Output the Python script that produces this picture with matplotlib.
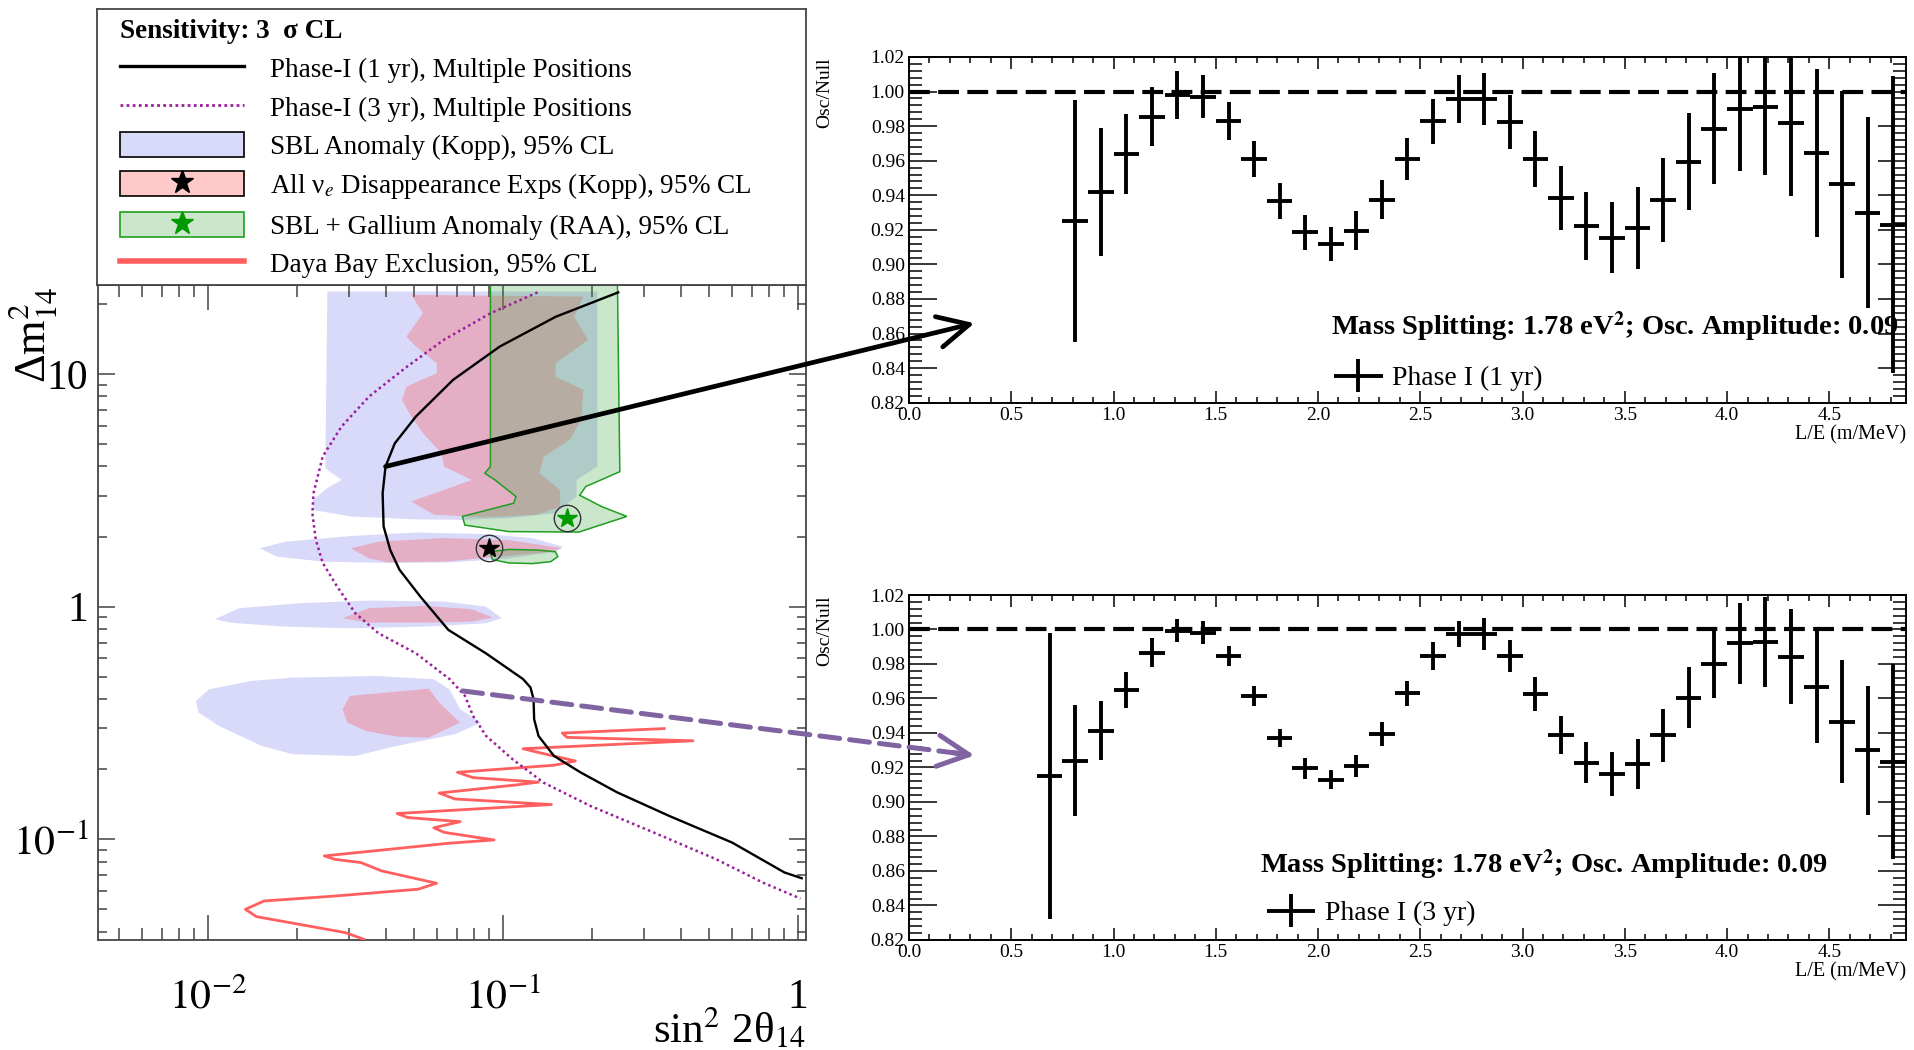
import matplotlib
matplotlib.use("Agg")
import matplotlib.pyplot as plt
from matplotlib.patches import Polygon, Patch, ConnectionPatch
from matplotlib.lines import Line2D
from matplotlib.container import ErrorbarContainer
from matplotlib.legend_handler import HandlerErrorbar, HandlerTuple
from matplotlib.ticker import (FixedLocator, FixedFormatter, LogLocator,
                               MultipleLocator, NullFormatter, FormatStrFormatter)

plt.rcParams['font.family'] = ['Liberation Serif', 'DejaVu Serif']
plt.rcParams['mathtext.fontset'] = 'stix'

# ---------------- sensitivity contours (sin^2 2theta14 , dm^2_14) ----------------
phase1_1yr_x = [0.246, 0.151, 0.0975, 0.0678, 0.0507, 0.043, 0.040, 0.0391, 0.0394, 0.0415,
                0.0446, 0.0526, 0.0653, 0.0875, 0.117, 0.124, 0.127, 0.1276, 0.132, 0.149,
                0.183, 0.244, 0.366, 0.598, 0.90, 1.03]
phase1_1yr_y = [22.4, 17.6, 13.1, 9.43, 6.56, 5.03, 4.0, 3.07, 2.21, 1.75,
                1.44, 1.10, 0.794, 0.63, 0.488, 0.449, 0.40, 0.328, 0.278, 0.228,
                0.194, 0.159, 0.126, 0.0968, 0.072, 0.068]

phase1_3yr_x = [0.131, 0.0906, 0.063, 0.0471, 0.0352, 0.0284, 0.0245, 0.0228, 0.0226, 0.0232,
                0.0245, 0.0274, 0.0316, 0.0379, 0.0507, 0.0659, 0.0744, 0.0792, 0.0877, 0.1077,
                0.1374, 0.198, 0.324, 0.529, 0.763, 1.02]
phase1_3yr_y = [22.4, 18.2, 14.0, 10.7, 8.0, 5.95, 4.42, 3.07, 2.52, 1.94,
                1.54, 1.22, 0.936, 0.767, 0.63, 0.488, 0.413, 0.339, 0.278, 0.221,
                0.175, 0.139, 0.107, 0.082, 0.065, 0.0556]

dayabay_x = [0.352, 0.159, 0.165, 0.441, 0.117, 0.132, 0.176, 0.149, 0.0701, 0.0792,
             0.132, 0.110, 0.0608, 0.0687, 0.146, 0.0438, 0.0475, 0.0716, 0.0583, 0.0633,
             0.0933, 0.0659, 0.0248, 0.0269, 0.033, 0.0388, 0.0596, 0.0516, 0.0269, 0.0155,
             0.0134, 0.0146, 0.0219, 0.0292, 0.0337]
dayabay_y = [0.299, 0.286, 0.274, 0.265, 0.245, 0.236, 0.217, 0.208, 0.194, 0.184,
             0.176, 0.171, 0.158, 0.149, 0.141, 0.129, 0.124, 0.119, 0.112, 0.107,
             0.0993, 0.0962, 0.0848, 0.082, 0.0794, 0.0731, 0.0647, 0.061, 0.057, 0.0543,
             0.050, 0.0465, 0.0424, 0.0397, 0.0372]

# SBL anomaly (Kopp) 95% CL islands
sbl_1_x = [0.0254, 0.209, 0.209, 0.1777, 0.1777, 0.1507, 0.1048, 0.0729, 0.0507, 0.0305,
           0.0228, 0.0227, 0.0254, 0.0284, 0.0250]
sbl_1_y = [22.6, 22.6, 4.0, 3.50, 2.97, 2.52, 2.40, 2.36, 2.37, 2.44,
           2.60, 2.87, 3.23, 3.50, 3.93]
sbl_2_x = [0.0150, 0.0183, 0.0305, 0.0507, 0.0875, 0.1257, 0.1592, 0.1507, 0.1048, 0.0678,
           0.0408, 0.0246, 0.0171]
sbl_2_y = [1.78, 1.90, 2.01, 2.08, 2.05, 1.97, 1.81, 1.72, 1.61, 1.55, 1.54, 1.56, 1.64]
sbl_3_x = [0.01056, 0.01276, 0.0205, 0.0352, 0.0631, 0.0875, 0.0993, 0.0875, 0.0545, 0.0305,
           0.0183, 0.01186]
sbl_3_y = [0.882, 0.984, 1.034, 1.061, 1.051, 1.0, 0.891, 0.848, 0.820, 0.807, 0.820, 0.853]
sbl_4_x = [0.0091, 0.0101, 0.0140, 0.0194, 0.0372, 0.0583, 0.0659, 0.0716, 0.0843, 0.0687,
           0.0438, 0.0316, 0.0194, 0.0152, 0.0109, 0.0093]
sbl_4_y = [0.393, 0.441, 0.479, 0.495, 0.503, 0.487, 0.441, 0.362, 0.317, 0.283,
           0.252, 0.228, 0.232, 0.252, 0.307, 0.350]

# All nu_e disappearance (Kopp) 95% CL islands
dis_1_x = [0.0489, 0.1875, 0.1743, 0.1944, 0.1507, 0.1507, 0.1875, 0.1841, 0.1681, 0.1377,
           0.1327, 0.1563, 0.1563, 0.1303, 0.0875, 0.0586, 0.0489, 0.0631, 0.0784, 0.0631,
           0.0619, 0.0536, 0.0489, 0.0455, 0.0471, 0.0597, 0.0597, 0.0507, 0.0471, 0.0536]
dis_1_y = [21.85, 21.5, 17.64, 14.0, 11.11, 9.74, 8.54, 6.34, 5.20, 4.41,
           3.74, 3.17, 2.69, 2.48, 2.42, 2.48, 2.83, 3.17, 3.50, 4.0,
           4.56, 5.56, 6.56, 7.73, 8.82, 10.07, 11.11, 13.11, 14.47, 18.23]
dis_2_x = [0.0305, 0.0379, 0.0631, 0.1048, 0.1592, 0.1453, 0.0975, 0.0631, 0.0408, 0.0352]
dis_2_y = [1.78, 1.90, 1.97, 1.93, 1.78, 1.72, 1.64, 1.56, 1.55, 1.61]
dis_3_x = [0.0286, 0.0352, 0.0545, 0.0784, 0.0923, 0.0784, 0.0545, 0.0352]
dis_3_y = [0.891, 0.984, 1.007, 0.974, 0.897, 0.862, 0.853, 0.853]
dis_4_x = [0.0286, 0.0303, 0.0404, 0.056, 0.0608, 0.0716, 0.0659, 0.056, 0.0438, 0.0343, 0.0297]
dis_4_y = [0.362, 0.413, 0.427, 0.444, 0.387, 0.317, 0.302, 0.2735, 0.276, 0.292, 0.317]

# SBL + Gallium anomaly (RAA) 95% CL islands
raa_1_x = [0.0907, 0.0907, 0.0868, 0.094, 0.1107, 0.1087, 0.0729, 0.0743, 0.1048, 0.1807,
           0.263, 0.216, 0.182, 0.191, 0.249, 0.244]
raa_1_y = [30.0, 4.0, 3.74, 3.50, 2.97, 2.78, 2.44, 2.24, 2.10, 2.09,
           2.44, 2.69, 3.01, 3.28, 3.80, 30.0]
raa_2_x = [0.090, 0.1048, 0.1303, 0.1507, 0.1535, 0.1453, 0.1257, 0.1048, 0.0923]
raa_2_y = [1.72, 1.76, 1.75, 1.72, 1.64, 1.56, 1.53, 1.54, 1.59]

kopp_best = (0.09, 1.78)
raa_best = (0.165, 2.40)

# ---------------- oscillation ratio, L/E bins ----------------
bin_half_width = 0.0625
le_1yr = [0.8125, 0.9375, 1.0625, 1.1875, 1.3125, 1.4375, 1.5625, 1.6875, 1.8125, 1.9375,
          2.0625, 2.1875, 2.3125, 2.4375, 2.5625, 2.6875, 2.8125, 2.9375, 3.0625, 3.1875,
          3.3125, 3.4375, 3.5625, 3.6875, 3.8125, 3.9375, 4.0625, 4.1875, 4.3125, 4.4375,
          4.5625, 4.6875, 4.8125]
ratio_1yr = [0.925, 0.942, 0.964, 0.9855, 0.998, 0.997, 0.983, 0.961, 0.9366, 0.9185,
             0.912, 0.9196, 0.9375, 0.961, 0.9828, 0.9957, 0.9957, 0.9824, 0.961, 0.9385,
             0.9223, 0.9154, 0.9212, 0.9375, 0.9595, 0.9786, 0.990, 0.991, 0.982, 0.9645,
             0.9464, 0.930, 0.923]
err_1yr = [0.070, 0.037, 0.023, 0.017, 0.014, 0.0125, 0.011, 0.0105, 0.0103, 0.0103,
           0.0099, 0.0113, 0.0115, 0.012, 0.013, 0.0139, 0.015, 0.0156, 0.0164, 0.0187,
           0.0196, 0.0205, 0.0238, 0.0243, 0.0281, 0.032, 0.036, 0.039, 0.0425, 0.0487,
           0.054, 0.055, 0.086]

le_3yr = [0.6875, 0.8125, 0.9375, 1.0625, 1.1875, 1.3125, 1.4375, 1.5625, 1.6875, 1.8125,
          1.9375, 2.0625, 2.1875, 2.3125, 2.4375, 2.5625, 2.6875, 2.8125, 2.9375, 3.0625,
          3.1875, 3.3125, 3.4375, 3.5625, 3.6875, 3.8125, 3.9375, 4.0625, 4.1875, 4.3125,
          4.4375, 4.5625, 4.6875, 4.8125]
ratio_3yr = [0.915, 0.924, 0.9414, 0.9649, 0.9866, 0.9993, 0.9982, 0.9846, 0.9613, 0.9371,
             0.9195, 0.913, 0.9209, 0.9392, 0.963, 0.9846, 0.9974, 0.9974, 0.9846, 0.9626,
             0.9388, 0.9228, 0.9162, 0.922, 0.9386, 0.9605, 0.98, 0.992, 0.9928, 0.9843,
             0.9665, 0.9466, 0.9301, 0.9234]
err_3yr = [0.083, 0.032, 0.017, 0.0105, 0.0082, 0.0067, 0.0066, 0.0058, 0.0057, 0.0055,
           0.006, 0.0057, 0.0063, 0.007, 0.0073, 0.008, 0.0077, 0.0095, 0.0095, 0.0097,
           0.011, 0.012, 0.0127, 0.0143, 0.0154, 0.0178, 0.0197, 0.0236, 0.0263, 0.0273,
           0.0324, 0.0357, 0.0374, 0.0566]

# arrows linking sensitivity curves to example spectra
arrow_1yr_from = (0.040, 4.0)
arrow_1yr_to = (0.32, 0.866)
arrow_3yr_from = (0.073, 0.434)
arrow_3yr_to = (0.32, 0.927)

# ---------------- styles ----------------
BLUE = (0.85, 0.85, 0.98)
RED = (1.0, 0.3, 0.3, 0.30)
GREEN = (0.25, 0.66, 0.25, 0.27)
GREEN_EDGE = '#1f9e1f'
PURPLE = '#9b1d9b'
DAYABAY = '#ff5f5f'
ARROW_PURPLE = '#8064a2'
FRAME = '#444444'

W, H = 1915, 1050
fig = plt.figure(figsize=(W / 100, H / 100), dpi=100)


def fig_rect(x0, y0, x1, y1):
    return [x0 / W, 1 - y1 / H, (x1 - x0) / W, (y1 - y0) / H]


ax_l = fig.add_axes(fig_rect(98, 285, 806, 940))
ax_leg = fig.add_axes(fig_rect(97, 9, 806, 285))
ax_t = fig.add_axes(fig_rect(909, 57, 1906, 402.7))
ax_b = fig.add_axes(fig_rect(909, 595, 1906, 940))

# ---------------- left: exclusion / sensitivity plane ----------------
ax_l.set_xscale('log')
ax_l.set_yscale('log')
ax_l.set_xlim(0.00424, 1.065)
ax_l.set_ylim(0.0369, 24.1)

for xs, ys in [(sbl_1_x, sbl_1_y), (sbl_2_x, sbl_2_y), (sbl_3_x, sbl_3_y), (sbl_4_x, sbl_4_y)]:
    ax_l.add_patch(Polygon(list(zip(xs, ys)), closed=True, facecolor=BLUE, edgecolor='none', zorder=1))
for xs, ys in [(dis_1_x, dis_1_y), (dis_2_x, dis_2_y), (dis_3_x, dis_3_y), (dis_4_x, dis_4_y)]:
    ax_l.add_patch(Polygon(list(zip(xs, ys)), closed=True, facecolor=RED, edgecolor='none', zorder=2))
for xs, ys in [(raa_1_x, raa_1_y), (raa_2_x, raa_2_y)]:
    ax_l.add_patch(Polygon(list(zip(xs, ys)), closed=True, facecolor=GREEN, edgecolor=GREEN_EDGE,
                           lw=1.1, zorder=3))

ax_l.plot(dayabay_x, dayabay_y, color=DAYABAY, lw=2.0, zorder=4)
ax_l.plot(phase1_3yr_x, phase1_3yr_y, color=PURPLE, lw=1.8, ls=(0, (1, 1.3)), zorder=5)
ax_l.plot(phase1_1yr_x, phase1_1yr_y, color='black', lw=1.7, zorder=5)

for (bx, by), col in [(kopp_best, 'black'), (raa_best, '#009900')]:
    ax_l.plot([bx], [by], marker='*', ms=15, color=col, ls='none', zorder=6)
    ax_l.plot([bx], [by], marker='o', ms=19, mfc='none', mec='#333333', mew=1.0, ls='none', zorder=6)

ax_l.xaxis.set_major_locator(FixedLocator([0.01, 0.1, 1.0]))
ax_l.xaxis.set_major_formatter(FixedFormatter([r'$10^{-2}$', r'$10^{-1}$', '1']))
ax_l.yaxis.set_major_locator(FixedLocator([0.1, 1.0, 10.0]))
ax_l.yaxis.set_major_formatter(FixedFormatter([r'$10^{-1}$', '1', '10']))
for axis in (ax_l.xaxis, ax_l.yaxis):
    axis.set_minor_locator(LogLocator(base=10, subs=[2, 3, 4, 5, 6, 7, 8, 9], numticks=20))
    axis.set_minor_formatter(NullFormatter())
ax_l.tick_params(axis='both', which='both', direction='in', top=True, right=True,
                 color=FRAME, width=1.1, labelsize=30)
ax_l.tick_params(axis='x', which='major', length=18, pad=28)
ax_l.tick_params(axis='x', which='minor', length=8.5)
ax_l.tick_params(axis='y', which='major', length=12, pad=7)
ax_l.tick_params(axis='y', which='minor', length=6.5)
for sp in ax_l.spines.values():
    sp.set_color(FRAME)
    sp.set_linewidth(1.3)

ax_l.text(-0.092, 0.997, 'Δm$^{2}_{14}$', rotation=90, ha='center', va='top',
          fontsize=32, transform=ax_l.transAxes)
ax_l.text(1.0, -0.135, 'sin$^{2}$ 2θ$_{14}$', ha='right', va='center',
          fontsize=31, transform=ax_l.transAxes)

# ---------------- legend box above the plane ----------------
ax_leg.set_xticks([])
ax_leg.set_yticks([])
for sp in ax_leg.spines.values():
    sp.set_color(FRAME)
    sp.set_linewidth(1.3)

leg_handles = [
    Line2D([], [], color='black', lw=2.4),
    Line2D([], [], color=PURPLE, lw=2.0, ls=(0, (1, 1.2))),
    Patch(facecolor=BLUE, edgecolor='black', lw=1.2),
    (Patch(facecolor=RED, edgecolor='black', lw=1.2),
     Line2D([], [], marker='*', color='black', ls='none', ms=17)),
    (Patch(facecolor=GREEN, edgecolor=GREEN_EDGE, lw=1.2),
     Line2D([], [], marker='*', color='#009900', ls='none', ms=17)),
    Line2D([], [], color=DAYABAY, lw=4),
]
leg_labels = [
    'Phase-I (1 yr), Multiple Positions',
    'Phase-I (3 yr), Multiple Positions',
    'SBL Anomaly (Kopp), 95% CL',
    'All ν$_{e}$ Disappearance Exps (Kopp), 95% CL',
    'SBL + Gallium Anomaly (RAA), 95% CL',
    'Daya Bay Exclusion, 95% CL',
]
ax_leg.legend(leg_handles, leg_labels, loc='upper left', bbox_to_anchor=(0.032, 0.962),
              frameon=False, fontsize=19.5, title='Sensitivity: 3  σ CL',
              title_fontproperties={'weight': 'bold', 'size': 19.5}, alignment='left',
              handlelength=4.6, handleheight=1.04, handletextpad=0.95, labelspacing=0.40,
              borderpad=0, borderaxespad=0, numpoints=1,
              handler_map={tuple: HandlerTuple(ndivide=1)})

# ---------------- right: oscillated / null spectra ratios ----------------
def ratio_panel(ax, centers, ratio, err, label, note_xy, leg_anchor):
    ax.axhline(1.0, color='black', lw=3.0, dashes=(5, 2), zorder=3)
    eb = ax.errorbar(centers, ratio, xerr=bin_half_width, yerr=err, fmt='none',
                     ecolor='black', elinewidth=2.8, capsize=0, zorder=4)
    ax.set_xlim(0.0, 4.875)
    ax.set_ylim(0.82, 1.02)
    ax.xaxis.set_major_locator(MultipleLocator(0.5))
    ax.xaxis.set_minor_locator(MultipleLocator(0.1))
    ax.yaxis.set_major_locator(MultipleLocator(0.02))
    ax.yaxis.set_minor_locator(MultipleLocator(0.004))
    ax.xaxis.set_major_formatter(FormatStrFormatter('%.1f'))
    ax.yaxis.set_major_formatter(FormatStrFormatter('%.2f'))
    ax.tick_params(axis='both', which='both', direction='in', top=True, right=True,
                   width=1.1, labelsize=14)
    ax.tick_params(axis='y', which='major', length=20, pad=3)
    ax.tick_params(axis='y', which='minor', length=9.5)
    ax.tick_params(axis='x', which='major', length=8.5, pad=3)
    ax.tick_params(axis='x', which='minor', length=4.5)
    for sp in ax.spines.values():
        sp.set_linewidth(1.4)
    ax.text(-0.085, 1.0, 'Osc/Null', rotation=90, ha='center', va='top', fontsize=14,
            transform=ax.transAxes)
    ax.text(1.0, -0.093, 'L/E (m/MeV)', ha='right', va='center', fontsize=14.5,
            transform=ax.transAxes)
    ax.text(note_xy[0], note_xy[1],
            r'Mass Splitting: 1.78 eV$^{\mathbf{2}}$; Osc. Amplitude: 0.09',
            ha='left', va='center', fontsize=20.5, fontweight='bold', transform=ax.transAxes,
            zorder=5)
    ax.legend([eb], [label], loc='center left', bbox_to_anchor=leg_anchor, frameon=False,
              fontsize=20, borderpad=0, borderaxespad=0, handlelength=1.76,
              handletextpad=0.35, numpoints=1,
              handler_map={ErrorbarContainer: HandlerErrorbar(xerr_size=0.88, yerr_size=0.58)})


ratio_panel(ax_t, le_1yr, ratio_1yr, err_1yr, 'Phase I (1 yr)', (0.423, 0.219), (0.426, 0.0697))
ratio_panel(ax_b, le_3yr, ratio_3yr, err_3yr, 'Phase I (3 yr)', (0.352, 0.218), (0.3586, 0.0768))

# ---------------- connecting arrows ----------------
fig.add_artist(ConnectionPatch(xyA=arrow_1yr_from, coordsA=ax_l.transData,
                               xyB=arrow_1yr_to, coordsB=ax_t.transData,
                               arrowstyle='->,head_length=0.8,head_width=0.4',
                               mutation_scale=28, lw=3.4, color='black',
                               shrinkA=0, shrinkB=0, zorder=30))

pa = ax_l.transData.transform(arrow_3yr_from)
pb = ax_b.transData.transform(arrow_3yr_to)
p_near = pb - 0.04 * (pb - pa)
fig.add_artist(ConnectionPatch(xyA=arrow_3yr_from, coordsA=ax_l.transData,
                               xyB=arrow_3yr_to, coordsB=ax_b.transData,
                               arrowstyle='-', lw=3.6, color=ARROW_PURPLE,
                               linestyle=(0, (4, 2)), shrinkA=0, shrinkB=4, zorder=30))
fig.add_artist(ConnectionPatch(xyA=fig.transFigure.inverted().transform(p_near),
                               coordsA='figure fraction',
                               xyB=arrow_3yr_to, coordsB=ax_b.transData,
                               arrowstyle='->,head_length=0.8,head_width=0.4',
                               mutation_scale=28, lw=3.6, color=ARROW_PURPLE,
                               shrinkA=0, shrinkB=0, zorder=31))

fig.savefig('out.png', dpi=100, facecolor='white')
